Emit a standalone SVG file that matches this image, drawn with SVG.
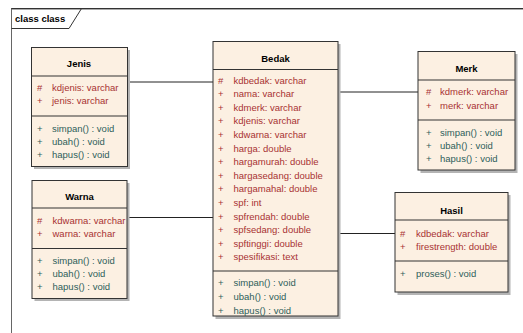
<svg xmlns="http://www.w3.org/2000/svg" width="523" height="333" viewBox="0 0 523 333">
<style>
text{font-family:"Liberation Sans",Arial,sans-serif;font-size:9.5px}
.t{font-weight:bold;fill:#000;text-anchor:middle}
.a{fill:#a83232}
.m{fill:#2e5e5a}
.box{fill:#fcf0e2;stroke:#333;stroke-width:1}
.sh{fill:#b4b4b4}
.sep{stroke:#333;stroke-width:1}
.con{stroke:#222;stroke-width:1;fill:none}
</style>
<rect width="523" height="333" fill="#fff"/>
<g id="frame">
<line x1="11" y1="9.5" x2="523" y2="9.5" stroke="#aaa" stroke-width="1"/>
<line x1="11" y1="8.5" x2="523" y2="8.5" stroke="#333" stroke-width="1"/>
<line x1="11.5" y1="8.5" x2="11.5" y2="333" stroke="#666" stroke-width="1"/>
<path d="M11.5,28.5 H69 L81.5,8.5" fill="none" stroke="#333" stroke-width="1"/>
<text x="15" y="22" style="font-weight:bold;font-size:9.5px">class class</text>
</g>
<g id="connectors">
<line class="con" x1="127" y1="82" x2="213" y2="82"/>
<line class="con" x1="127" y1="217.5" x2="213" y2="217.5"/>
<line class="con" x1="338" y1="92" x2="418" y2="92"/>
<line class="con" x1="338" y1="233.5" x2="395" y2="233.5"/>
</g>
<g id="Jenis">
<rect class="sh" x="34" y="50" width="96" height="119"/>
<rect class="box" x="31.5" y="47.5" width="96" height="119"/>
<line class="sep" x1="31.5" y1="76" x2="127.5" y2="76"/>
<line class="sep" x1="31.5" y1="116" x2="127.5" y2="116"/>
<text class="t" x="79" y="67">Jenis</text>
<text class="a" x="37" y="91">#</text><text class="a" x="52" y="91">kdjenis:  varchar</text>
<text class="a" x="37" y="104">+</text><text class="a" x="52" y="104">jenis:  varchar</text>
<text class="m" x="37" y="132">+</text><text class="m" x="52" y="132">simpan() : void</text>
<text class="m" x="37" y="145">+</text><text class="m" x="52" y="145">ubah() : void</text>
<text class="m" x="37" y="158">+</text><text class="m" x="52" y="158">hapus() : void</text>
</g>
<g id="Warna">
<rect class="sh" x="34.5" y="183" width="95" height="118"/>
<rect class="box" x="32" y="180.5" width="95" height="118"/>
<line class="sep" x1="32" y1="208" x2="127" y2="208"/>
<line class="sep" x1="32" y1="248.5" x2="127" y2="248.5"/>
<text class="t" x="79.5" y="200">Warna</text>
<text class="a" x="37" y="224">#</text><text class="a" x="52.5" y="224">kdwarna:  varchar</text>
<text class="a" x="37" y="237">+</text><text class="a" x="52.5" y="237">warna:  varchar</text>
<text class="m" x="37" y="264">+</text><text class="m" x="52.5" y="264">simpan() : void</text>
<text class="m" x="37" y="277">+</text><text class="m" x="52.5" y="277">ubah() : void</text>
<text class="m" x="37" y="290">+</text><text class="m" x="52.5" y="290">hapus() : void</text>
</g>
<g id="Bedak">
<rect class="sh" x="215.5" y="44" width="125" height="275"/>
<rect class="box" x="213" y="41.5" width="125" height="274.5"/>
<line class="sep" x1="213" y1="69.5" x2="338" y2="69.5"/>
<line class="sep" x1="213" y1="271" x2="338" y2="271"/>
<text class="t" x="275.5" y="62">Bedak</text>
<text class="a" x="218" y="83.5">#</text><text class="a" x="233.5" y="83.5">kdbedak:  varchar</text>
<text class="a" x="218" y="97.1">+</text><text class="a" x="233.5" y="97.1">nama:  varchar</text>
<text class="a" x="218" y="110.7">+</text><text class="a" x="233.5" y="110.7">kdmerk:  varchar</text>
<text class="a" x="218" y="124.3">+</text><text class="a" x="233.5" y="124.3">kdjenis:  varchar</text>
<text class="a" x="218" y="137.9">+</text><text class="a" x="233.5" y="137.9">kdwarna:  varchar</text>
<text class="a" x="218" y="151.5">+</text><text class="a" x="233.5" y="151.5">harga:  double</text>
<text class="a" x="218" y="165.1">+</text><text class="a" x="233.5" y="165.1">hargamurah:  double</text>
<text class="a" x="218" y="178.7">+</text><text class="a" x="233.5" y="178.7">hargasedang:  double</text>
<text class="a" x="218" y="192.3">+</text><text class="a" x="233.5" y="192.3">hargamahal:  double</text>
<text class="a" x="218" y="205.9">+</text><text class="a" x="233.5" y="205.9">spf:  int</text>
<text class="a" x="218" y="219.5">+</text><text class="a" x="233.5" y="219.5">spfrendah:  double</text>
<text class="a" x="218" y="233.1">+</text><text class="a" x="233.5" y="233.1">spfsedang:  double</text>
<text class="a" x="218" y="246.7">+</text><text class="a" x="233.5" y="246.7">spftinggi:  double</text>
<text class="a" x="218" y="260.3">+</text><text class="a" x="233.5" y="260.3">spesifikasi:  text</text>
<text class="m" x="218" y="286">+</text><text class="m" x="233.5" y="286">simpan() : void</text>
<text class="m" x="218" y="300">+</text><text class="m" x="233.5" y="300">ubah() : void</text>
<text class="m" x="218" y="313.5">+</text><text class="m" x="233.5" y="313.5">hapus() : void</text>
</g>
<g id="Merk">
<rect class="sh" x="420.5" y="54" width="97" height="119"/>
<rect class="box" x="418" y="51.5" width="97" height="118.5"/>
<line class="sep" x1="418" y1="80" x2="515" y2="80"/>
<line class="sep" x1="418" y1="120" x2="515" y2="120"/>
<text class="t" x="466.5" y="72">Merk</text>
<text class="a" x="426" y="95">#</text><text class="a" x="440" y="95">kdmerk:  varchar</text>
<text class="a" x="426" y="108.5">+</text><text class="a" x="440" y="108.5">merk:  varchar</text>
<text class="m" x="426" y="136">+</text><text class="m" x="440" y="136">simpan() : void</text>
<text class="m" x="426" y="149">+</text><text class="m" x="440" y="149">ubah() : void</text>
<text class="m" x="426" y="162">+</text><text class="m" x="440" y="162">hapus() : void</text>
</g>
<g id="Hasil">
<rect class="sh" x="397.5" y="195" width="113" height="100"/>
<rect class="box" x="395" y="192.5" width="113" height="99.5"/>
<line class="sep" x1="395" y1="220" x2="508" y2="220"/>
<line class="sep" x1="395" y1="261" x2="508" y2="261"/>
<text class="t" x="451.5" y="213.5">Hasil</text>
<text class="a" x="400" y="237">#</text><text class="a" x="416" y="237">kdbedak:  varchar</text>
<text class="a" x="400" y="249.5">+</text><text class="a" x="416" y="249.5">firestrength:  double</text>
<text class="m" x="400" y="277">+</text><text class="m" x="416" y="277">proses() : void</text>
</g>
</svg>
